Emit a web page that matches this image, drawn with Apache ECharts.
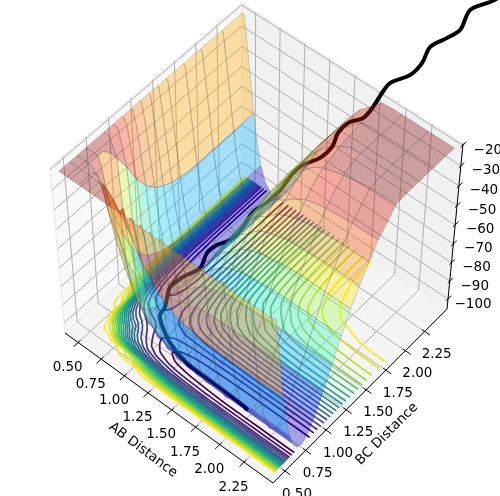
<!DOCTYPE html>
<html><head><meta charset="utf-8">
<style>html,body{margin:0;padding:0;background:#fff}#c{width:500px;height:496px}</style>
<script src="https://cdn.jsdelivr.net/npm/echarts@6/dist/echarts.min.js"></script></head>
<body><div id="c"></div>
<script>
const distances=[.4,.42,.45,.52,.55,.6,.65,.7,.75,.8,.85,.9,1,1.1,1.2,1.3,1.4,1.5,1.6,1.7,1.8,1.9,2,2.25,2.5];
// Estimated potential, upper triangle (row = smaller distance); the surface is symmetric in AB/BC
const potentialUpper=[
[-21,-21,-21,-21,-21,-21,-21,-21,-21,-21,-21,-21,-21,-21,-21,-21,-21,-21,-21,-21,-21,-21,-21,-21,-21],
[-21,-21,-21,-21,-21,-21,-21,-21,-21,-21,-21,-21,-21,-21,-21,-21,-21,-21,-21,-21,-21,-21,-21,-21],
[-21,-21,-21,-21,-21,-21,-21,-21,-21,-21,-21,-24,-27,-30,-32,-33,-34,-34,-34,-34,-34,-34,-34],
[-21,-21,-21,-21,-21,-21,-23,-26,-30,-38,-48,-55,-60,-63,-65,-66,-67,-67,-67,-67,-67,-67],
[-21,-21,-21,-25,-33,-41,-48,-54,-64,-70,-74,-76,-77.5,-78.5,-79,-79,-79,-79,-79,-79,-79],
[-24,-30,-40,-50,-58,-65,-71,-80,-85,-88,-90,-91,-91.5,-92,-92,-92,-92,-92,-92,-92],
[-38,-50,-60,-69,-76,-81,-89,-93,-95.5,-97,-98,-98.5,-99,-99.2,-99.5,-99.5,-99.5,-99.5,-99.5],
[-58,-68,-76,-82,-86,-93,-97,-99.4,-101,-102,-102.4,-102.7,-103,-103,-103,-103,-103,-103],
[-73,-80,-85,-89,-95,-98.6,-101,-102,-103,-103.4,-103.7,-103.8,-104,-104,-104,-104,-104],
[-84,-88,-91,-96,-98.5,-100,-101,-101.7,-102,-102.2,-102.4,-102.6,-102.6,-102.6,-102.6,-102.6],
[-90,-92,-95,-97,-98,-98.6,-99,-99.2,-99.4,-99.5,-99.6,-99.6,-99.6,-99.6,-99.6],
[-93,-94,-94.6,-95,-95.2,-95.4,-95.5,-95.6,-95.6,-95.6,-95.6,-95.6,-95.6,-95.6],
[-92,-89.5,-88,-87,-86.5,-86,-86,-85.8,-85.6,-85.6,-85.6,-85.6,-85.6],
[-85,-81,-79,-77,-76,-76,-75.4,-75.2,-75,-75,-75,-75],
[-76,-71,-68.5,-66.6,-65.6,-65,-64.5,-64.2,-64,-64,-64],
[-67,-62,-59,-57,-56,-55,-54.5,-54,-54,-54],
[-58,-53,-50.4,-49,-47.6,-47,-46.6,-46,-46],
[-50,-45,-42.5,-40.6,-39.5,-39,-38.2,-38],
[-42,-38,-35,-33.5,-32.5,-31.4,-31],
[-33,-30,-28.5,-27.5,-26.8,-26.5],
[-27,-25.5,-24,-22,-21.5],
[-22.8,-21.5,-21,-21],
[-21,-21,-21],
[-21,-21],
[-21]];
// Facet boundaries of the surface, as indices into distances
const meshAB=[0,3,5,7,11,12,13,14,15,16,17,18,20,22,23,24];
const meshBC=[0,3,5,7,11,12,13,14,15,16,17,18,20,22,23,24];
const contourLevels=[-100,-95.9,-91.8,-87.7,-83.6,-79.5,-75.4,-71.3,-67.2,-63.1,-59,-54.9,-50.8,-46.7,-42.6,-38.5,-34.4,-30.3,-26.2,-22.1];
const contourColors=['#440154','#481467','#482576','#453781','#404688','#39558c','#33638d','#2d718e','#287d8e','#238a8d','#1f968b','#20a386','#29af7f','#3dbc74','#56c667','#75d054','#95d840','#bade28','#dde318','#fde725'];
const trajAB=[1.96,1.883,1.70,1.529,1.313,1.081,.915,.836,.814,.739,.711,.724,.769,.711,.719,.766,.759,.72,.74,.739,.704,.713,.772,.773,.713,.708,.771,.757,.716,.699,.773,.765,.703,.752,.78,.702,.796,.78];
const trajBC=[.728,.735,.742,.746,.752,.811,.901,.965,1.051,1.172,1.228,1.373,1.533,1.685,1.801,1.911,2.084,2.258,2.415,2.584,2.795,2.917,3.07,3.229,3.382,3.525,3.652,3.804,3.979,4.113,4.298,4.475,4.667,4.848,4.998,5.245,5.486,5.7];
const abTicks=[.5,.75,1,1.25,1.5,1.75,2,2.25];
const bcTicks=[.5,.75,1,1.25,1.5,1.75,2,2.25];
const zTicks=[-20,-30,-40,-50,-60,-70,-80,-90,-100];
const jetStops=[[0,0,0,128],[.11,0,0,255],[.125,0,0,255],[.34,0,220,255],[.35,0,229,247],[.5,124,255,121],[.64,247,242,0],[.66,255,220,0],[.89,255,30,0],[1,128,0,0]];

const LIM=[.356,2.544], ZLIM=[-105.6,-19.1], FLOOR=-104, FMIN=-104, FMAX=-21;
const FONT='13.5px "DejaVu Sans"';
function hom(u,v,w){const D=1-.03963*u+.0489*v-.0754*w;
  return [(65+197.2*u+189*v-18.8*w)/D,(333+130.9*u-152*v-177.9*w)/D,D];}
function U(r){return (r-LIM[0])/(LIM[1]-LIM[0]);}
function W(z){return (z-ZLIM[0])/(ZLIM[1]-ZLIM[0]);}
function pot(i,j){return i<=j?potentialUpper[i][j-i]:potentialUpper[j][i-j];}
function jet(t){t=Math.max(0,Math.min(1,t));for(let k=1;k<jetStops.length;k++){if(t<=jetStops[k][0]){const a=jetStops[k-1],b=jetStops[k],f=(t-a[0])/(b[0]-a[0]);
  return [1,2,3].map(c=>Math.round(a[c]+(b[c]-a[c])*f));}}return [128,0,0];}

function surfaceChildren(api){
  const cells=[];
  for(let p=0;p<meshAB.length-1;p++)for(let q=0;q<meshBC.length-1;q++){
    const a0=meshAB[p],a1=meshAB[p+1],b0=meshBC[q],b1=meshBC[q+1],per=[];
    for(let i=a0;i<a1;i++)per.push([i,b0]);
    for(let j=b0;j<b1;j++)per.push([a1,j]);
    for(let i=a1;i>a0;i--)per.push([i,b1]);
    for(let j=b1;j>b0;j--)per.push([a0,j]);
    let depth=0;const pts=per.map(([i,j])=>{const z=pot(i,j);
      const h=hom(U(distances[i]),U(distances[j]),W(z));depth+=h[2];return api.coord([h[0],h[1]]);});
    const mean=(pot(a0,b0)+pot(a1,b0)+pot(a1,b1)+pot(a0,b1))/4;
    cells.push({pts,mean,depth:depth/per.length});
  }
  cells.sort((x,y)=>y.depth-x.depth);
  return cells.map(c=>{const col=jet((c.mean-FMIN)/(FMAX-FMIN));
    return {type:'polygon',shape:{points:c.pts},style:{fill:`rgba(${col.join(',')},.34)`,stroke:'rgba(50,50,50,.28)',lineWidth:.7}};});
}
// marching squares over the table, chained into polylines
function contourChains(L){
  const segs=[];
  for(let i=0;i<distances.length-1;i++)for(let j=0;j<distances.length-1;j++){
    const c=[[i,j],[i+1,j],[i+1,j+1],[i,j+1]],cr=[];
    for(let e=0;e<4;e++){const A=c[e],B=c[(e+1)%4],za=pot(A[0],A[1]),zb=pot(B[0],B[1]);
      if((za<L)!==(zb<L)){const t=(L-za)/(zb-za);
        cr.push([distances[A[0]]+(distances[B[0]]-distances[A[0]])*t,distances[A[1]]+(distances[B[1]]-distances[A[1]])*t]);}}
    for(let s=0;s+1<cr.length;s+=2)segs.push([cr[s],cr[s+1]]);
  }
  const key=p=>p[0].toFixed(4)+','+p[1].toFixed(4),used=segs.map(()=>false),idx={};
  segs.forEach((s,n)=>s.forEach(p=>(idx[key(p)]=idx[key(p)]||[]).push(n)));
  const walk=(chain,p)=>{for(;;){const nx=(idx[key(p)]||[]).find(n=>!used[n]);if(nx===undefined)return;used[nx]=true;
      const s=segs[nx];p=key(s[0])===key(p)?s[1]:s[0];chain.push(p);}};
  const chains=[];
  segs.forEach((s,n)=>{if(used[n])return;used[n]=true;const f=[s[1]];walk(f,s[1]);const b=[s[0]];walk(b,s[0]);chains.push(b.reverse().concat(f));});
  return chains;
}
function contourChildren(api){
  const out=[];
  contourLevels.forEach((L,n)=>{
    contourChains(L).forEach(ch=>{
      const pts=ch.map(p=>{const h=hom(U(p[0]),U(p[1]),W(FLOOR));return api.coord([h[0],h[1]]);});
      out.push({type:'polyline',shape:{points:pts,smooth:.25},style:{fill:null,stroke:contourColors[n],lineWidth:1.7,lineCap:'round',lineJoin:'round'}});
    });
  });
  return out;
}
function line3(api,a,b,style){const p=hom(...a),q=hom(...b),P=api.coord([p[0],p[1]]),Q=api.coord([q[0],q[1]]);
  return {type:'line',shape:{x1:P[0],y1:P[1],x2:Q[0],y2:Q[1]},style};}
function poly3(api,pts,fill){return {type:'polygon',shape:{points:pts.map(t=>{const h=hom(...t);return api.coord([h[0],h[1]]);})},style:{fill,stroke:'#ececec',lineWidth:1.2}};}
function label(api,t,a,dx,dy,rot,font){const h=hom(...a),P=api.coord([h[0],h[1]]);
  return {type:'text',x:P[0]+dx,y:P[1]+dy,rotation:rot||0,style:{text:t,fill:'#000',font:font||FONT,align:'center',verticalAlign:'middle'}};}
function frameChildren(api){
  const g={stroke:'#b0b0b0',lineWidth:1},out=[
    poly3(api,[[0,0,0],[0,1,0],[0,1,1],[0,0,1]],'#f9f9f9'),
    poly3(api,[[0,1,0],[1,1,0],[1,1,1],[0,1,1]],'#f1f1f1'),
    poly3(api,[[0,0,0],[1,0,0],[1,1,0],[0,1,0]],'#f5f5f5')];
  abTicks.forEach(t=>{const u=U(t);out.push(line3(api,[u,0,0],[u,1,0],g),line3(api,[u,1,0],[u,1,1],g));});
  bcTicks.forEach(t=>{const v=U(t);out.push(line3(api,[1,v,0],[0,v,0],g),line3(api,[0,v,0],[0,v,1],g));});
  zTicks.forEach(t=>{const w=W(t);out.push(line3(api,[0,0,w],[0,1,w],g),line3(api,[0,1,w],[1,1,w],g));});
  const k={stroke:'#000',lineWidth:1};
  out.push(line3(api,[0,0,0],[1,0,0],k),line3(api,[1,0,0],[1,1,0],k),line3(api,[1,1,0],[1,1,1],k));
  abTicks.forEach(t=>{const u=U(t);out.push(line3(api,[u,.012,0],[u,-.025,0],k),label(api,t.toFixed(2),[u,0,0],-10.5,25));});
  bcTicks.forEach(t=>{const v=U(t);out.push(line3(api,[.988,v,0],[1.025,v,0],k),label(api,t.toFixed(2),[1,v,0],12,23));});
  zTicks.forEach(t=>{const w=W(t);out.push(line3(api,[1,.988,w],[1,1.02,w],k),label(api,'\u2212'+Math.abs(t),[1,1,w],25,5));});
  out.push({type:'text',x:143,y:450,rotation:-37*Math.PI/180,style:{text:'AB Distance',fill:'#000',font:FONT,align:'center',verticalAlign:'middle'}});
  out.push({type:'text',x:387,y:434,rotation:45*Math.PI/180,style:{text:'BC Distance',fill:'#000',font:FONT,align:'center',verticalAlign:'middle'}});
  return out;
}
function trajChildren(api){
  const pts=trajAB.map((a,i)=>{const h=hom(U(a),U(trajBC[i]),W(FLOOR));return api.coord([h[0],h[1]]);});
  return [{type:'polyline',shape:{points:pts,smooth:.3},style:{fill:null,stroke:'#000',lineWidth:4,lineJoin:'round',lineCap:'round'}}];
}
const layer=(f)=>({type:'custom',coordinateSystem:'cartesian2d',silent:true,data:[[0,0]],clip:false,animation:false,
  renderItem:(p,api)=>({type:'group',children:f(api)})});
const chart=echarts.init(document.getElementById('c'),null,{renderer:'canvas'});
chart.setOption({animation:false,backgroundColor:'#fff',
  grid:{left:0,right:0,top:0,bottom:0},
  xAxis:{type:'value',min:0,max:500,show:false},
  yAxis:{type:'value',min:0,max:496,inverse:true,show:false},
  series:[layer(frameChildren),layer(contourChildren),layer(trajChildren),layer(surfaceChildren)]});
</script></body></html>
